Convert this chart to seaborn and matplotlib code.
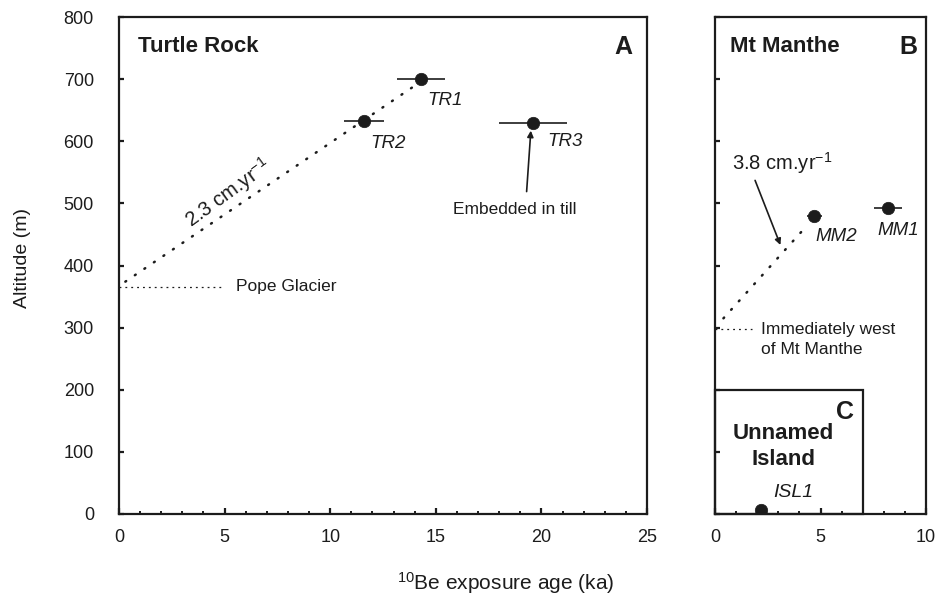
import numpy as np
import pandas as pd
import seaborn as sns
import matplotlib.pyplot as plt
from matplotlib.patches import Rectangle
from matplotlib.ticker import MultipleLocator

# ------------------------------
# DATA
# ------------------------------
tr_names = ["TR1", "TR2", "TR3"]
tr_age = [14.3, 11.6, 19.6]
tr_err = [1.15, 0.95, 1.6]
tr_alt = [701, 632, 630]

mm_names = ["MM2", "MM1"]
mm_age = [4.7, 8.2]
mm_err = [0.35, 0.65]
mm_alt = [480, 492]

isl_names = ["ISL1"]
isl_age = [2.2]
isl_alt = [6]

# thinning-rate fits and present ice surfaces
tr_fit_age = [0.3, 13.9]
tr_fit_alt = [374, 687]
mm_fit_age = [0.4, 4.3]
mm_fit_alt = [315, 462]
pope_age = [0.0, 4.9]
pope_alt = [366, 366]
west_age = [0.0, 1.75]
west_alt = [298, 298]

y_ticks = list(range(0, 801, 100))
a_xticks = [0, 5, 10, 15, 20, 25]
b_xticks = [0, 5, 10]

INK = "#1c1c1c"

sns.set_theme(style="ticks")
plt.rcParams["font.family"] = ["Liberation Sans", "DejaVu Sans"]
plt.rcParams["mathtext.fontset"] = "custom"
plt.rcParams["mathtext.rm"] = "Liberation Sans"
plt.rcParams["mathtext.it"] = "Liberation Sans:italic"

fig = plt.figure(figsize=(9.36, 5.97), dpi=100)
ax_a = fig.add_axes([119 / 936, 1 - 514 / 597, 528 / 936, 497 / 597])
ax_b = fig.add_axes([715 / 936, 1 - 514 / 597, 211 / 936, 497 / 597])


def style_axes(ax, xmax, xticks, show_y):
    ax.set_xlim(0, xmax)
    ax.set_ylim(0, 800)
    ax.set_xticks(xticks)
    ax.xaxis.set_minor_locator(MultipleLocator(1))
    ax.set_yticks(y_ticks)
    for s in ax.spines.values():
        s.set_visible(True)
        s.set_linewidth(1.6)
        s.set_color(INK)
    ax.tick_params(axis="x", which="major", direction="in", length=4, width=1.6,
                   color=INK, labelsize=13, labelcolor=INK, pad=11)
    ax.tick_params(axis="x", which="minor", direction="in", length=2.5, width=1.4,
                   color=INK)
    ax.tick_params(axis="y", which="major", direction="in", length=3.5, width=1.6,
                   color=INK, labelsize=13, labelcolor=INK, pad=18,
                   labelleft=show_y)


def plot_samples(ax, age, alt, err, names):
    if err is not None:
        ax.errorbar(age, alt, xerr=err, fmt="none", ecolor=INK, elinewidth=1.2,
                    capsize=0, zorder=3)
    df = pd.DataFrame({"age": age, "alt": alt, "name": names})
    sns.scatterplot(data=df, x="age", y="alt", ax=ax, color=INK, s=80,
                    edgecolor=INK, linewidth=0.5, zorder=4, legend=False)
    ax.set_xlabel("")
    ax.set_ylabel("")


dot_style = dict(color=INK, lw=1.8, linestyle=(0, (0.4, 4.2)),
                 dash_capstyle="round", zorder=2)
dash_style = dict(color=INK, lw=0.9, linestyle=(0, (1.5, 3.2)), zorder=2)

# ------------------------------
# PANEL A - Turtle Rock
# ------------------------------
style_axes(ax_a, 25, a_xticks, True)
ax_a.plot(tr_fit_age, tr_fit_alt, **dot_style)
ax_a.plot(pope_age, pope_alt, **dash_style)
plot_samples(ax_a, tr_age, tr_alt, tr_err, tr_names)

ax_a.text(0.9, 752, "Turtle Rock", fontsize=16, fontweight="bold", color=INK,
          va="center", ha="left")
ax_a.text(24.3, 752, "A", fontsize=18, fontweight="bold", color=INK,
          va="center", ha="right")
ax_a.text(14.6, 666, "TR1", fontsize=13.5, style="italic", color=INK, va="center")
ax_a.text(11.9, 597, "TR2", fontsize=13.5, style="italic", color=INK, va="center")
ax_a.text(20.3, 599, "TR3", fontsize=13.5, style="italic", color=INK, va="center")
ax_a.text(5.55, 366, "Pope Glacier", fontsize=12.5, color=INK, va="center")
ax_a.text(5.15, 516, r"2.3 cm.yr$^{-1}$", fontsize=14.5, color=INK, va="center",
          ha="center", rotation=36, rotation_mode="anchor")
ax_a.annotate("", xy=(19.5, 617), xytext=(19.3, 519),
              arrowprops=dict(arrowstyle="-|>", color=INK, lw=1.2,
                              mutation_scale=9, shrinkA=0, shrinkB=0))
ax_a.text(18.75, 490, "Embedded in till", fontsize=12.5, color=INK,
          va="center", ha="center")

# ------------------------------
# PANEL B - Mt Manthe (+ inset C)
# ------------------------------
style_axes(ax_b, 10, b_xticks, False)
ax_b.plot(mm_fit_age, mm_fit_alt, **dot_style)
ax_b.plot(west_age, west_alt, **dash_style)
plot_samples(ax_b, mm_age, mm_alt, mm_err, mm_names)

ax_b.text(0.7, 752, "Mt Manthe", fontsize=16, fontweight="bold", color=INK,
          va="center", ha="left")
ax_b.text(9.6, 752, "B", fontsize=18, fontweight="bold", color=INK,
          va="center", ha="right")
ax_b.text(4.75, 446, "MM2", fontsize=13.5, style="italic", color=INK, va="center")
ax_b.text(7.7, 457, "MM1", fontsize=13.5, style="italic", color=INK, va="center")
ax_b.text(0.8, 565, r"3.8 cm.yr$^{-1}$", fontsize=14.5, color=INK, va="center")
ax_b.annotate("", xy=(3.1, 433), xytext=(1.9, 537),
              arrowprops=dict(arrowstyle="-|>", color=INK, lw=1.2,
                              mutation_scale=9, shrinkA=0, shrinkB=0))
ax_b.text(2.18, 297, "Immediately west", fontsize=12.5, color=INK,
          va="center", ha="left")
ax_b.text(2.18, 264, "of Mt Manthe", fontsize=12.5, color=INK,
          va="center", ha="left")

ax_b.add_patch(Rectangle((0, 0), 7, 200, fill=False, edgecolor=INK, lw=1.6,
                         zorder=5, clip_on=False))
ax_b.text(6.6, 164, "C", fontsize=18, fontweight="bold", color=INK,
          va="center", ha="right")
ax_b.text(3.25, 129, "Unnamed", fontsize=16, fontweight="bold",
          color=INK, va="center", ha="center")
ax_b.text(3.25, 87, "Island", fontsize=16, fontweight="bold",
          color=INK, va="center", ha="center")
ax_b.text(2.75, 34, "ISL1", fontsize=14, style="italic", color=INK, va="center")
plot_samples(ax_b, isl_age, isl_alt, None, isl_names)

# ------------------------------
# SHARED AXIS LABELS
# ------------------------------
fig.text(23 / 936, 1 - 258 / 597, "Altitude (m)", rotation=90, fontsize=14,
         color=INK, va="center", ha="center")
fig.text(506 / 936, 1 - 583 / 597, r"$^{10}$Be exposure age (ka)", fontsize=15,
         color=INK, va="center", ha="center")

fig.savefig("out.png", dpi=100, facecolor="white")
